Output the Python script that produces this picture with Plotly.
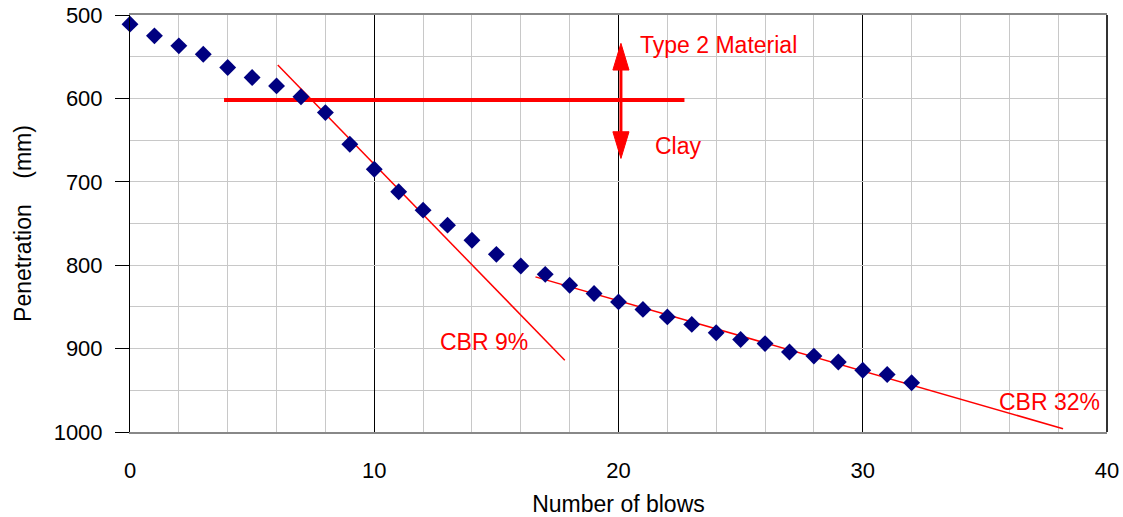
import plotly.graph_objects as go

# Dynamic cone penetrometer test: depth reached after each blow
blows = list(range(33))
penetration = [511, 525, 537, 547, 563, 575, 585, 598, 617, 655, 685, 712,
               734, 752, 770, 787, 801, 811, 824, 834, 844, 853, 862, 871,
               881, 889, 894, 904, 909, 916, 926, 931, 941]

# Fitted slope lines for the two layers
cbr9_x = [6.05, 17.8]
cbr9_y = [560, 914]
cbr32_x = [16.6, 38.2]
cbr32_y = [814, 996]

# Layer boundary between the Type 2 material and the clay
boundary_x = [3.85, 22.7]
boundary_y = [602, 602]

# Double arrow marking the two layers
arrow_x = 20.1
arrow_up_tip = 534
arrow_down_tip = 672
head_len = 32      # in mm (y units)
head_half = 0.33   # in blows (x units)

RED = "#ff0000"
FONT = "Liberation Sans, Arial, sans-serif"

fig = go.Figure()

fig.add_trace(go.Scatter(x=cbr9_x, y=cbr9_y, mode="lines",
                         line=dict(color=RED, width=1.5), hoverinfo="skip"))
fig.add_trace(go.Scatter(x=cbr32_x, y=cbr32_y, mode="lines",
                         line=dict(color=RED, width=1.5), hoverinfo="skip"))
fig.add_trace(go.Scatter(x=boundary_x, y=boundary_y, mode="lines",
                         line=dict(color=RED, width=4), hoverinfo="skip"))

# arrow shaft
fig.add_trace(go.Scatter(x=[arrow_x, arrow_x],
                         y=[arrow_up_tip + head_len * 0.8, arrow_down_tip - head_len * 0.8],
                         mode="lines", line=dict(color=RED, width=3), hoverinfo="skip"))


def head_path(tip, direction):
    base = tip + direction * head_len
    return (f"M {arrow_x} {tip} L {arrow_x - head_half} {base} "
            f"L {arrow_x + head_half} {base} Z")


shapes = [
    dict(type="path", xref="x", yref="y", path=head_path(arrow_up_tip, 1),
         fillcolor=RED, line=dict(color=RED, width=1)),
    dict(type="path", xref="x", yref="y", path=head_path(arrow_down_tip, -1),
         fillcolor=RED, line=dict(color=RED, width=1)),
    # right border of the plot area
    dict(type="line", xref="paper", yref="paper", x0=1, x1=1, y0=0, y1=1,
         line=dict(color="#333333", width=2)),
]

fig.add_trace(go.Scatter(x=blows, y=penetration, mode="markers",
                         marker=dict(symbol="diamond", size=13, color="#000080"),
                         cliponaxis=False, name="Penetration"))

annotations = [
    dict(x=20.8, y=536, text="Type 2 Material"),
    dict(x=21.4, y=657, text="Clay"),
    dict(x=12.6, y=892, text="CBR 9%"),
    dict(x=35.5, y=964, text="CBR 32%"),
]
for a in annotations:
    a.update(xref="x", yref="y", showarrow=False, xanchor="left", yanchor="middle",
             font=dict(family=FONT, size=23, color=RED))

fig.update_layout(
    width=1123, height=517,
    margin=dict(l=130, r=16, t=15, b=85),
    paper_bgcolor="white", plot_bgcolor="white",
    showlegend=False,
    font=dict(family=FONT, size=22, color="black"),
    shapes=shapes,
    annotations=annotations,
)

fig.update_xaxes(
    range=[0, 40], dtick=10, tick0=0, automargin=False,
    showgrid=True, gridcolor="black", gridwidth=1,
    minor=dict(dtick=2, showgrid=True, gridcolor="#c8c8c8", gridwidth=1),
    showline=True, linecolor="#888888", linewidth=2, mirror=True,
    ticks="", ticklabelstandoff=18,
    zeroline=False,
    title=dict(text="Number of blows", standoff=14, font=dict(size=23)),
)
fig.update_yaxes(
    range=[1000, 500], dtick=100, tick0=500, automargin=False,
    showgrid=True, gridcolor="#c8c8c8", gridwidth=1,
    minor=dict(dtick=50, showgrid=True, gridcolor="#c8c8c8", gridwidth=1),
    showline=True, linecolor="black", linewidth=1,
    ticks="outside", ticklen=14, tickcolor="black", ticklabelstandoff=8,
    zeroline=False,
    title=dict(text="Penetration\u00a0\u00a0\u00a0\u00a0(mm)", standoff=15, font=dict(size=23)),
)

fig.write_html("out.html")
